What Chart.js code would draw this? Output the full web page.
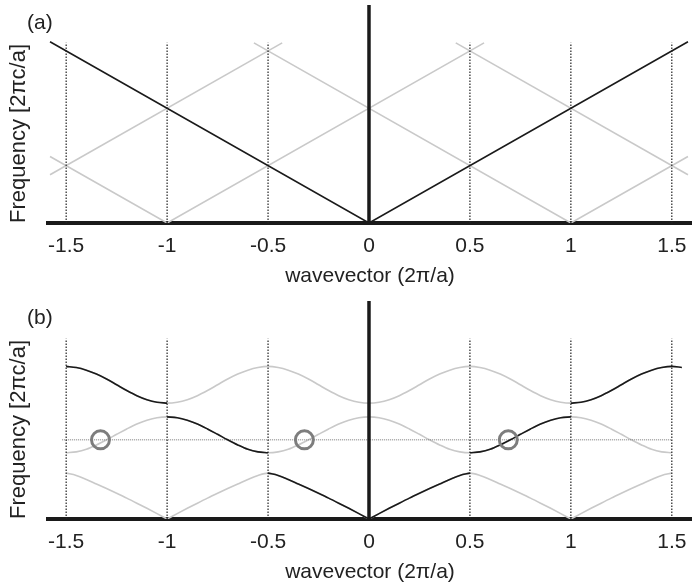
<!DOCTYPE html>
<html>
<head>
<meta charset="utf-8">
<script src="https://cdn.jsdelivr.net/npm/chart.js@4.4.1/dist/chart.umd.min.js"></script>
<style>
  body { margin: 0; background: #fff; }
  .wrap { position: relative; width: 692px; height: 587px; }
  .wrap canvas { position: absolute; left: 0; }
  .tag { position: absolute; font: 21px "Liberation Sans", Arial, sans-serif; line-height: 21px; color: #222; }
</style>
</head>
<body>
<div class="wrap">
  <canvas id="chartA" width="692" height="293" style="top:0"></canvas>
  <canvas id="chartB" width="692" height="294" style="top:293px"></canvas>
  <div class="tag" style="left:27px;top:11px">(a)</div>
  <div class="tag" style="left:27px;top:306px">(b)</div>
</div>
<script>
// axis
const xTicks = [-1.5, -1, -0.5, 0, 0.5, 1, 1.5];
const kMin = -1.59, kMax = 1.6;
const freqMax = 1.9;
const zoneEdges = [-1.5, -1, -0.5, 0.5, 1, 1.5];
const edgeTop = 1.57;

// (a) light line and its folded copies (end points)
const lightK = [-1.58, 0, 1.58];
const lightW = [1.58, 0, 1.58];
const foldK = [[-1.58, -1, 0.57], [-0.57, 1, 1.58], [-1.58, -0.43], [0.43, 1.58]];
const foldW = [[0.58, 0, 1.57], [1.57, 0, 0.58], [0.42, 1.57], [1.57, 0.42]];

// (b) bands, read every 0.05 over half a zone
const bandK = [0, 0.05, 0.1, 0.15, 0.2, 0.25, 0.3, 0.35, 0.4, 0.45, 0.5];
const band1 = [0, 0.047, 0.093, 0.138, 0.182, 0.224, 0.265, 0.305, 0.345, 0.38, 0.40];
const band2 = [0.89, 0.883, 0.861, 0.828, 0.785, 0.738, 0.69, 0.645, 0.607, 0.585, 0.577];
const band3 = [1.01, 1.018, 1.04, 1.075, 1.12, 1.17, 1.22, 1.263, 1.297, 1.32, 1.33];
const lineFreq = 0.69;
const lineK = [-1.52, 1.5];
const crossK = [-1.33, -0.32, 0.69];

const BLACK = '#1a1a1a';
const GRAY = '#c9c9c9';
const FONT = '"Liberation Sans", Arial, sans-serif';

const pts = (ks, ws) => ks.map((k, i) => ({ x: k, y: ws[i] }));

// repeat a half-zone band over the k range (mirror + period 1), index steps of bandK
const half = bandK.length - 1;
function unfold(band, from, to, cusp) {
  const out = [];
  for (let m = from; m <= to; m++) {
    let i = ((m % (2 * half)) + 2 * half) % (2 * half);
    if (i > half) i = 2 * half - i;
    const k = Math.round(m * bandK[1] * 100) / 100;
    out.push({ x: k, y: band[i] });
    // break the spline at the cusp so it stays sharp
    if (cusp && i === 0 && m !== from && m !== to) {
      out.push({ x: k, y: null });
      out.push({ x: k, y: band[i] });
    }
  }
  return out;
}
const gap = [{ x: 0, y: null }];

const zoneLines = [];
zoneEdges.forEach(k => { zoneLines.push({ x: k, y: 0 }, { x: k, y: edgeTop }, { x: k, y: null }); });
const axisLine = [{ x: 0, y: 0 }, { x: 0, y: freqMax }];

const dotted = { data: zoneLines, borderColor: '#222', borderWidth: 1.2, borderDash: [1.5, 1.5], order: 3 };
const centre = { data: axisLine, borderColor: BLACK, borderWidth: 3.5, order: 2 };

function makeChart(id, datasets, padTop, xHeight, titlePad) {
  return new Chart(document.getElementById(id), {
    type: 'line',
    data: { datasets: datasets },
    options: {
      responsive: false,
      animation: false,
      events: [],
      layout: { autoPadding: false, padding: { top: padTop, left: 0, right: 0, bottom: 0 } },
      elements: { point: { radius: 0 }, line: { fill: false } },
      plugins: { legend: { display: false }, tooltip: { enabled: false } },
      scales: {
        x: {
          type: 'linear', min: kMin, max: kMax,
          afterBuildTicks: s => { s.ticks = xTicks.map(v => ({ value: v })); },
          // fixed height, and no extra room asked for the end labels
          afterFit: s => { s.height = xHeight; s.paddingLeft = 0; s.paddingRight = 0; },
          grid: { display: false, drawTicks: false },
          border: { display: true, color: BLACK, width: 4 },
          ticks: { padding: 11, autoSkip: false, maxRotation: 0, color: '#222', font: { family: FONT, size: 21 }, callback: v => String(v) },
          title: { display: true, text: 'wavevector (2π/a)', color: '#222', font: { family: FONT, size: 21 }, padding: { top: 0, bottom: titlePad } }
        },
        y: {
          min: 0, max: freqMax,
          afterFit: s => { s.width = 48; },
          grid: { display: false, drawTicks: false },
          border: { display: false },
          ticks: { display: false },
          title: { display: true, text: 'Frequency [2πc/a]', align: 'start', color: '#222', font: { family: FONT, size: 22 }, padding: { top: 6, bottom: 0 } }
        }
      }
    }
  });
}

// (a) empty lattice
const setA = [
  { data: pts(lightK, lightW), borderColor: BLACK, borderWidth: 1.6, order: 1 },
  centre,
  dotted
];
foldK.forEach((ks, i) => setA.push({ data: pts(ks, foldW[i]), borderColor: GRAY, borderWidth: 1.6, order: 4 }));
makeChart('chartA', setA, 5, 70, 4);

// (b) periodic structure
const smooth = { cubicInterpolationMode: 'monotone', borderWidth: 1.6 };
const setB = [
  { data: pts(crossK, crossK.map(() => lineFreq)), showLine: false, pointRadius: 9, pointBorderWidth: 3,
    pointBorderColor: '#7d7d7d', pointBackgroundColor: 'rgba(0,0,0,0)', order: 0 },
  { ...smooth, data: unfold(band1, -10, 10, true), borderColor: BLACK, order: 1 },
  { ...smooth, data: unfold(band2, -20, -10).concat(gap, unfold(band2, 10, 20)), borderColor: BLACK, order: 1 },
  { ...smooth, data: unfold(band3, -30, -20).concat(gap, unfold(band3, 20, 31)), borderColor: BLACK, order: 1 },
  { ...centre },
  { ...dotted },
  { data: pts(lineK, lineK.map(() => lineFreq)), borderColor: '#777', borderWidth: 1, borderDash: [1, 1], order: 3 },
  { ...smooth, data: unfold(band1, -30, 30, true), borderColor: GRAY, order: 4 },
  { ...smooth, data: unfold(band2, -30, 30), borderColor: GRAY, order: 4 },
  { ...smooth, data: unfold(band3, -30, 30), borderColor: GRAY, order: 4 }
];
makeChart('chartB', setB, 8, 68, 2);
</script>
</body>
</html>
